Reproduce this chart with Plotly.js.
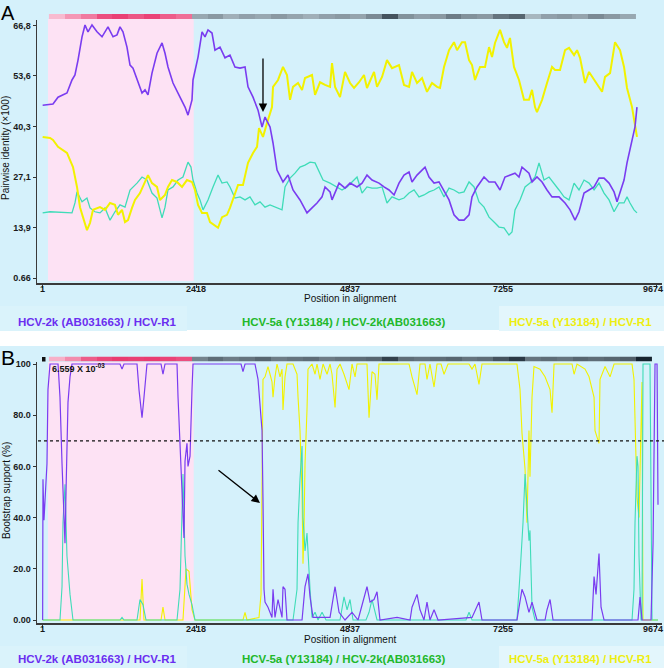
<!DOCTYPE html>
<html><head><meta charset="utf-8">
<script src="https://cdn.plot.ly/plotly-3.0.1.min.js"></script>
<style>html,body{margin:0;padding:0;background:#d5f1fb;}#chart{width:664px;height:668px;}</style>
</head><body><div id="chart"></div>
<script>
// ---------- axis ticks ----------
const positionTicks = [1, 2418, 4837, 7255, 9674];
const identityTicks = [0.66, 13.9, 27.1, 40.3, 53.6, 66.8];
const identityTickText = ['0.66', '13,9', '27,1', '40,3', '53,6', '66,8'];
const bootTicks = [0, 20, 40, 60, 80, 100];
const bootTickText = ['0.00', '20.0', '40.0', '60.0', '80.0', '100'];
const pairNames = ['HCV-2k (AB031663) / HCV-R1', 'HCV-5a (Y13184) / HCV-2k(AB031663)', 'HCV-5a (Y13184) / HCV-R1'];

// ---------- Panel A: pairwise identity (x100) ----------
const aPurpleX = [1,164,243,384,463,510,558,621,668,715,778,857,936,1030,1109,1172,1219,1266,1329,1377,1424,1503,1566,1613,1660,1723,1802,1881,1928,1975,2054,2164,2243,2290,2353,2369,2448,2511,2558,2605,2668,2715,2794,2873,2951,3030,3109,3188,3235,3314,3393,3456,3503,3582,3629,3692,3786,3865,3944,4054,4164,4243,4322,4401,4448,4527,4558,4669,4763,4842,4952,5031,5109,5188,5298,5377,5456,5535,5613,5692,5771,5818,5897,5976,6023,6086,6165,6243,6338,6401,6479,6558,6637,6716,6763,6842,6952,7031,7125,7204,7282,7361,7440,7503,7550,7660,7708,7786,7866,7944,8023,8133,8228,8307,8385,8448,8527,8606,8685,8763,8842,8921,9000,9047,9094,9157,9204,9251,9330,9361];
const aPurpleY = [45.9,46.2,48.0,49.1,52.5,53.8,57.7,63.8,66.9,65.1,66.9,65.1,63.8,66.4,63.8,64.3,66.4,65.1,61.1,56.4,55.6,51.7,49.1,49.9,48.6,54.3,59.5,62.2,59.5,55.9,51.7,48.0,45.4,43.3,47.3,52.5,58.5,65.1,63.8,65.6,64.8,60.3,61.1,58.3,59.0,55.9,55.6,55.9,50.7,48.0,44.6,40.2,42.8,40.2,36.0,28.9,25.8,27.6,23.7,21.1,17.7,19.0,20.3,21.9,24.5,23.2,21.1,25.5,24.2,25.5,24.5,25.5,27.6,26.3,25.5,24.5,23.7,22.4,25.5,27.6,28.4,25.8,27.6,28.9,29.7,27.1,25.5,25.8,22.9,21.1,17.2,15.8,15.8,17.2,21.9,24.5,27.1,25.8,25.8,23.7,27.1,27.6,28.1,27.1,29.7,28.1,25.8,27.1,25.8,23.7,21.9,21.9,20.3,18.5,15.8,18.0,22.9,23.7,24.5,26.8,26.8,25.5,23.2,20.6,22.9,26.3,30.8,34.6,40.2,45.4];

const aYellowX = [1,117,164,243,384,432,479,542,589,636,699,747,794,904,983,1062,1140,1188,1251,1298,1345,1408,1455,1534,1613,1660,1723,1802,1849,1928,1975,2038,2117,2196,2274,2353,2400,2448,2511,2589,2637,2715,2763,2826,2904,2951,3030,3078,3156,3235,3314,3377,3408,3471,3534,3613,3629,3708,3786,3849,3897,3944,4023,4086,4133,4243,4291,4369,4448,4527,4558,4606,4684,4763,4842,4905,4984,5062,5109,5220,5267,5346,5424,5503,5613,5692,5771,5818,5897,5976,6054,6133,6212,6259,6322,6401,6479,6527,6605,6653,6716,6763,6810,6889,6968,7031,7078,7125,7204,7267,7314,7361,7424,7503,7582,7660,7708,7755,7786,7866,7944,8023,8071,8149,8228,8291,8370,8417,8464,8543,8606,8685,8763,8811,8858,8937,9015,9094,9157,9204,9283,9330,9361];
const aYellowY = [37.6,37.3,36.8,35.0,33.4,31.6,29.7,24.5,19.2,16.6,13.2,15.1,18.5,19.2,18.5,20.3,19.8,17.2,18.5,15.3,15.8,19.0,21.1,22.9,25.8,27.6,25.5,24.5,21.1,22.4,24.5,26.3,25.8,24.5,26.3,25.8,23.7,19.8,17.7,17.7,15.3,14.5,13.8,16.6,17.2,19.0,22.9,25.0,25.0,30.8,33.4,35.0,39.9,37.6,41.2,45.4,50.7,52.5,55.9,53.8,47.3,50.7,51.7,49.9,53.0,53.8,48.6,51.9,51.2,50.7,56.9,50.7,48.0,54.6,51.7,50.4,51.9,53.8,50.4,54.6,50.7,53.3,57.7,55.6,56.4,51.2,50.7,54.6,51.7,53.0,49.4,51.7,50.7,50.4,55.9,60.3,62.4,60.3,62.4,62.4,57.7,56.4,52.5,55.9,55.9,61.1,58.5,62.2,65.6,62.4,60.9,63.5,55.9,52.5,47.3,47.3,49.9,45.4,44.1,47.3,51.7,55.9,55.1,55.1,60.3,60.9,59.0,60.3,58.3,51.7,54.6,52.5,50.7,49.4,53.3,54.3,62.4,60.3,55.9,50.4,45.4,40.7,37.6];

const aTealX = [1,117,463,510,542,621,699,747,825,904,983,1062,1140,1219,1298,1377,1487,1566,1644,1723,1802,1881,1928,1975,2054,2133,2211,2290,2337,2369,2432,2479,2527,2605,2684,2763,2826,2904,2951,3030,3109,3188,3266,3345,3424,3503,3582,3692,3771,3818,3897,3975,4054,4133,4212,4291,4369,4417,4527,4637,4716,4795,4873,4952,5031,5109,5188,5267,5346,5424,5503,5613,5692,5771,5850,5928,6007,6086,6165,6243,6322,6401,6479,6558,6637,6716,6795,6873,6952,7031,7110,7188,7267,7345,7393,7440,7519,7598,7676,7755,7818,7897,7976,8055,8133,8212,8291,8370,8448,8527,8606,8685,8763,8842,8921,9000,9078,9157,9204,9251,9314,9361];
const aTealY = [17.7,18.0,17.7,20.3,23.2,20.6,21.6,19.0,18.0,17.7,19.0,15.8,18.0,19.8,19.2,23.7,25.5,27.1,26.3,22.9,21.6,16.4,19.2,23.7,24.5,26.3,27.1,31.0,29.7,26.3,22.9,21.1,18.5,21.1,24.5,27.6,25.5,25.8,24.5,21.6,21.9,21.1,21.9,19.8,20.6,19.2,19.8,19.0,18.5,24.5,26.8,28.1,29.7,30.2,31.0,30.8,28.1,26.3,25.5,24.5,23.7,24.5,25.8,27.1,22.9,24.5,24.2,24.2,24.5,20.3,21.9,21.1,21.6,22.9,23.7,21.9,22.4,23.2,23.7,24.5,21.9,24.2,23.7,22.9,23.2,25.8,24.5,20.6,19.2,16.6,15.3,14.0,13.8,11.9,12.7,18.5,21.1,24.5,25.5,27.1,30.8,26.3,27.1,25.5,23.7,21.9,21.1,25.5,23.7,26.3,25.5,23.7,25.5,22.9,21.1,18.0,20.3,20.3,21.9,20.3,18.5,17.7];

// ---------- Panel B: bootstrap support (%) ----------
const bPurpleX = [1,6,22,69,85,117,243,274,306,353,369,400,432,463,1219,1251,1282,1487,1518,1566,1597,1644,1865,1896,1928,2117,2133,2164,2196,2227,2243,2274,2290,2322,2353,2369,3125,3156,3188,3345,3393,3456,3471,3487,3503,3550,3613,3629,3660,3708,3771,3786,3818,3849,4086,4133,4180,4212,4259,4527,4606,4669,4763,4873,4968,5109,5157,5220,5267,5314,5582,5787,5818,5897,5944,6007,6054,6101,6165,6228,6763,6873,6920,7471,7550,7598,7660,7708,7786,7913,7944,7992,8039,8653,8685,8716,8763,8795,8842,9377,9409,9440,9582,9614,9645,9677,9692];
const bPurpleY = [0,55,39,61,90,100,100,87,61,30,50,85,95,100,100,98,100,100,90,79,87,100,100,96,100,100,87,70,51,32,62,69,60,64,90,100,100,97,100,100,94,74,47,12,7,5,1,12,1,8,1,13,12,0,0,13,18,9,1,1,13,3,0,3,0,13,7,8,11,0,1,0,5,10,4,0,7,0,4,0,1,7,0,0,12,9,3,7,0,0,4,8,0,0,17,10,26,5,0,0,9,0,0,30,100,100,45];

const bYellowX = [1,1534,1566,1597,1865,1896,1928,2211,2259,2306,2353,2400,3156,3188,3219,3408,3440,3456,3471,3503,3550,3582,3613,3629,3660,3692,3739,3771,3786,3818,3849,3944,4007,4023,4054,4086,4101,4117,4133,4164,4180,4243,4291,4322,4369,4417,4480,4527,4558,4606,4637,4684,4747,4826,4873,4921,4952,5109,5141,5188,5235,5267,5298,5771,5818,5897,5944,6023,6054,6101,6165,6212,6275,6322,6385,6716,6763,6810,6873,6920,7471,7519,7550,7598,7629,7660,7676,7708,7739,7834,7913,7992,8023,8055,8338,8370,8417,8543,8606,8685,8700,8763,8779,8858,8937,9000,9283,9314,9330,9361,9393,9424,9440,9456,9692];
const bYellowY = [0,0,16,0,0,5,0,0,20,19,4,0,0,3,0,1,10,46,94,95,99,96,93,87,95,100,95,98,82,95,100,100,96,87,74,50,22,35,61,82,98,100,96,100,94,100,96,100,96,83,98,100,96,90,100,95,100,100,79,97,96,86,100,100,95,88,100,100,94,100,91,100,100,96,100,100,98,100,92,100,100,90,73,59,38,74,56,87,99,98,95,90,81,100,100,96,100,98,95,87,74,69,94,99,95,100,100,94,74,48,40,85,93,0,0];

const bTealX = [1,274,306,321,353,384,432,479,1219,1251,1282,1487,1534,1581,1629,2117,2164,2196,2211,2243,2274,2306,2353,2400,3944,4007,4023,4054,4086,4101,4133,4164,4180,4212,4243,4291,4338,4401,4464,4684,4747,4795,4842,4889,5093,5141,5188,5267,6668,6716,6763,7471,7519,7566,7598,7629,7660,7676,7708,7755,9283,9314,9330,9361,9377,9393,9424,9440,9456,9566,9598,9692];
const bTealY = [0,0,13,38,53,25,10,0,0,1,0,0,8,6,0,0,12,38,57,25,14,10,6,0,0,12,38,55,68,40,27,34,25,12,1,3,0,3,0,0,9,4,8,0,0,3,8,0,0,3,0,0,18,38,57,45,31,35,5,0,0,12,38,64,60,25,0,0,100,100,0,0];

// ---------- colour strips above each panel (relative shading, 0-0.49 pink, 0.5-1 grey) ----------
const stripAShade = [0.12,0.22,0.30,0.42,0.46,0.40,0.45,0.38,0.33,0.62,0.66,0.60,0.64,0.62,0.66,0.63,0.60,0.64,0.66,0.63,0.70,0.85,0.68,0.64,0.66,0.74,0.68,0.66,0.76,0.80,0.58,0.64,0.66,0.63,0.70,0.66,0.62];
const stripBShade = [0.15,0.25,0.38,0.44,0.47,0.46,0.47,0.45,0.42,0.72,0.78,0.74,0.76,0.80,0.74,0.76,0.78,0.74,0.76,0.78,0.80,0.90,0.78,0.76,0.78,0.80,0.76,0.78,0.85,0.92,0.76,0.78,0.76,0.80,0.78,0.80,0.82,0.98];

// ---------- styling ----------
const W = 664, H = 668;
const px = v => v / W;
const py = v => 1 - v / H;
const PURPLE = '#7a3cf0', TEAL = '#3fdcb8', YELLOW = '#f2f200';
const BG = '#d5f1fb', PINK = '#fde2f4';
const tickFont = {family: 'Liberation Sans, Arial, sans-serif', size: 9, color: '#1a1a1a', weight: 'bold'};
const legFont = c => ({family: 'Liberation Sans, Arial, sans-serif', size: 11.5, color: c, weight: 'bold'});
const stripScale = [[0, '#fde6f1'], [0.49, '#e8356c'], [0.5, '#c4d4dc'], [1, '#0e1c28']];

function line(x, y, color, width, xa, ya) {
  return {type: 'scatter', mode: 'lines', x: x, y: y, xaxis: xa, yaxis: ya,
          line: {color: color, width: width}, hoverinfo: 'skip', showlegend: false};
}
function strip(z, xa, ya) {
  return {type: 'heatmap', z: [z], x0: 225, dx: 250, y: [0], xaxis: xa, yaxis: ya,
          colorscale: stripScale, zmin: 0, zmax: 1, showscale: false, hoverinfo: 'skip'};
}

const data = [
  strip(stripAShade, 'x', 'y2'),
  strip(stripBShade, 'x2', 'y4'),
  line(aTealX, aTealY, TEAL, 1.3, 'x', 'y'),
  line(aYellowX, aYellowY, YELLOW, 2.0, 'x', 'y'),
  line(aPurpleX, aPurpleY, PURPLE, 1.6, 'x', 'y'),
  line(bYellowX, bYellowY, YELLOW, 1.1, 'x2', 'y3'),
  line(bTealX, bTealY, TEAL, 1.1, 'x2', 'y3'),
  line(bPurpleX, bPurpleY, PURPLE, 1.2, 'x2', 'y3')
];

const xCommon = {range: [-88, 9755], domain: [px(37), px(662)], tickvals: positionTicks,
  showticklabels: false, ticks: 'outside', ticklen: 3, tickcolor: '#333',
  showline: true, linecolor: '#3a3a3a', linewidth: 2, showgrid: false, zeroline: false, fixedrange: true};
const yCommon = {ticks: 'outside', ticklen: 3, tickcolor: '#333', showline: true,
  linecolor: '#3a3a3a', linewidth: 1.5, showgrid: false, zeroline: false, tickfont: tickFont, fixedrange: true};

const ann = (text, x, y, font, extra) => Object.assign({text: text, x: x, y: y, xref: 'paper', yref: 'paper',
  showarrow: false, font: font, xanchor: 'center', yanchor: 'middle', borderpad: 0}, extra || {});
const plainFont = (s, c) => ({family: 'Liberation Sans, Arial, sans-serif', size: s, color: c || '#111'});

// x tick labels placed just under each axis line
const xTickLabels = [];
[['x', 288.5], ['x2', 629]].forEach(([xa, yy]) => {
  positionTicks.forEach((t, i) => {
    xTickLabels.push({text: String(t), x: t, xref: xa, y: py(yy), yref: 'paper', showarrow: false,
      font: tickFont, xanchor: 'center', yanchor: 'middle', borderpad: 0,
      xshift: i === positionTicks.length - 1 ? -4 : 0});
  });
});

const layout = {
  width: W, height: H, autosize: false,
  margin: {l: 0, r: 0, t: 0, b: 0},
  paper_bgcolor: BG, plot_bgcolor: 'rgba(0,0,0,0)', showlegend: false,
  xaxis: Object.assign({}, xCommon, {anchor: 'y'}),
  xaxis2: Object.assign({}, xCommon, {anchor: 'y3'}),
  yaxis: Object.assign({}, yCommon, {domain: [py(283), py(20)], range: [-0.65, 68.2], anchor: 'x',
    tickvals: identityTicks, ticktext: identityTickText}),
  yaxis2: {domain: [py(19), py(14)], range: [-0.5, 0.5], visible: false, anchor: 'x', fixedrange: true},
  yaxis3: Object.assign({}, yCommon, {domain: [py(623), py(362)], range: [-1.17, 100.78], anchor: 'x2',
    tickvals: bootTicks, ticktext: bootTickText}),
  yaxis4: {domain: [py(361.5), py(356.5)], range: [-0.5, 0.5], visible: false, anchor: 'x2', fixedrange: true},
  shapes: [
    {type: 'rect', xref: 'paper', yref: 'paper', x0: 0, x1: 1, y0: py(346), y1: py(330), fillcolor: '#ffffff', line: {width: 0}, layer: 'below'},
    {type: 'rect', xref: 'paper', yref: 'paper', x0: 0, x1: px(187), y0: py(331), y1: py(306), fillcolor: '#daf3fb', line: {width: 0}, layer: 'below'},
    {type: 'rect', xref: 'paper', yref: 'paper', x0: px(499), x1: 1, y0: py(331), y1: py(306), fillcolor: '#e3f6fc', line: {width: 0}, layer: 'below'},
    {type: 'rect', xref: 'paper', yref: 'paper', x0: 0, x1: px(187), y0: 0, y1: py(646), fillcolor: '#daf3fb', line: {width: 0}, layer: 'below'},
    {type: 'rect', xref: 'paper', yref: 'paper', x0: px(499), x1: 1, y0: 0, y1: py(646), fillcolor: '#e3f6fc', line: {width: 0}, layer: 'below'},
    {type: 'rect', xref: 'x', yref: 'paper', x0: 85, x1: 2380, y0: py(281), y1: py(19), fillcolor: PINK, line: {width: 0}, layer: 'below'},
    {type: 'rect', xref: 'x2', yref: 'paper', x0: 85, x1: 2380, y0: py(621), y1: py(362), fillcolor: PINK, line: {width: 0}, layer: 'below'},
    {type: 'rect', xref: 'paper', yref: 'paper', x0: px(42), x1: px(45.5), y0: py(361.5), y1: py(357), fillcolor: '#111', line: {width: 0}},
    {type: 'line', xref: 'paper', yref: 'y3', x0: px(38), x1: 1, y0: 70, y1: 70, line: {color: '#111', width: 1.2, dash: '3px,3px'}}
  ],
  annotations: xTickLabels.concat([
    ann('A', px(0), py(1), plainFont(20, '#000'), {xanchor: 'left', yanchor: 'top'}),
    ann('B', px(0), py(345), plainFont(21, '#000'), {xanchor: 'left', yanchor: 'top'}),
    ann('Position in alignment', px(350), py(298.5), plainFont(10)),
    ann('Position in alignment', px(350), py(639.5), plainFont(10)),
    ann('Pairwise identity (×100)', px(6), py(148), plainFont(10), {textangle: -90}),
    ann('Bootstrap support (%)', px(6), py(491), plainFont(10), {textangle: -90}),
    ann(pairNames[0], px(97), py(322), legFont('#6a2ef0')),
    ann(pairNames[1], px(343), py(322), legFont('#22b82a')),
    ann(pairNames[2], px(580), py(322), legFont('#eeee10')),
    ann(pairNames[0], px(97), py(659), legFont('#6a2ef0')),
    ann(pairNames[1], px(343), py(659), legFont('#22b82a')),
    ann(pairNames[2], px(580), py(659), legFont('#eeee10')),
    ann('6.559 X 10<sup>-03</sup>', px(51), py(368), {family: 'Liberation Sans, Arial, sans-serif', size: 9, color: '#111', weight: 'bold'}, {xanchor: 'left'}),
    {x: 3471, y: 44.1, xref: 'x', yref: 'y', ax: 0, ay: -55, showarrow: true, arrowhead: 2, arrowsize: 1.3, arrowwidth: 1.3, arrowcolor: '#000', text: ''},
    {x: 3424, y: 45.7, xref: 'x2', yref: 'y3', ax: -43, ay: -34, showarrow: true, arrowhead: 2, arrowsize: 1.3, arrowwidth: 1.3, arrowcolor: '#000', text: ''}
  ])
};

Plotly.newPlot('chart', data, layout, {displayModeBar: false, staticPlot: true});
</script>
</body></html>
